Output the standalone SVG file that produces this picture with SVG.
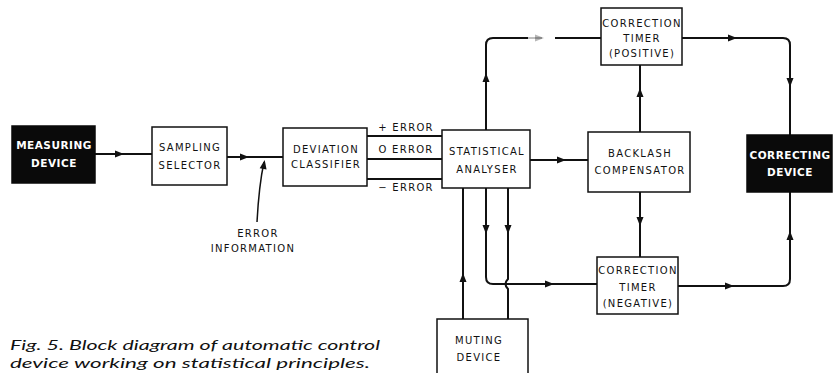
<svg xmlns="http://www.w3.org/2000/svg" width="840" height="373" viewBox="0 0 840 373">
<defs>
<style>
.box{fill:#fff;stroke:#111;stroke-width:1.5}
.blk{fill:#0a0a0a;stroke:#0a0a0a;stroke-width:1.5}
.lbl{font-family:"DejaVu Sans","Liberation Sans",sans-serif;font-size:10px;letter-spacing:1.3px;fill:#111;text-anchor:middle}
.wlbl{font-family:"DejaVu Sans","Liberation Sans",sans-serif;font-size:10.5px;font-weight:bold;letter-spacing:0.5px;fill:#fff;text-anchor:middle}
.ln{fill:none;stroke:#111;stroke-width:2}
.cap{font-family:Lato,"Open Sans",sans-serif;font-style:italic;font-size:14px;fill:#111}
</style>
<path id="ah" d="M-5,-3.5 L4,0 L-5,3.5 Z" fill="#111"/>
</defs>
<rect width="840" height="373" fill="#fff"/>

<g id="connectors">
<path class="ln" d="M95,154 H152"/>
<use href="#ah" transform="translate(120,154)"/>
<path class="ln" d="M227,157 H283"/>
<use href="#ah" transform="translate(245,157)"/>
<path class="ln" style="stroke-width:1.5" d="M257,222 Q259,185 264,162"/>
<use href="#ah" transform="translate(264,164) rotate(-80)"/>
<path class="ln" d="M367,136 H442 M367,159 H442 M367,179 H442"/>
<path class="ln" d="M530,160 H588"/>
<use href="#ah" transform="translate(562,160)"/>
<path class="ln" d="M486,130 V45 Q486,38 493,38 H528"/>
<path fill="none" stroke="#aaa" stroke-width="1.5" d="M528,38 H542"/>
<use href="#ah" transform="translate(540,38)" style="opacity:0.3"/>
<path class="ln" d="M555,38 H601"/>
<use href="#ah" transform="translate(486,77) rotate(-90)"/>
<path class="ln" d="M682,38 H783 Q790,38 790,45 V135"/>
<use href="#ah" transform="translate(733,38)"/>
<use href="#ah" transform="translate(790,83) rotate(90)"/>
<path class="ln" d="M640,132 V65"/>
<use href="#ah" transform="translate(640,92) rotate(-90)"/>
<path class="ln" d="M640,192 V257"/>
<use href="#ah" transform="translate(640,222) rotate(90)"/>
<path class="ln" d="M678,286 H783 Q790,286 790,279 V192"/>
<use href="#ah" transform="translate(730,286)"/>
<use href="#ah" transform="translate(790,235) rotate(-90)"/>
<path class="ln" d="M463,319 V188"/>
<use href="#ah" transform="translate(463,277) rotate(-90)"/>
<path class="ln" d="M486,188 V277 Q486,284 493,284 H597"/>
<use href="#ah" transform="translate(486,230) rotate(90)"/>
<use href="#ah" transform="translate(550,284)"/>
<path class="ln" d="M508,188 V279 Q503,284 508,289 V319"/>
<use href="#ah" transform="translate(508,230) rotate(90)"/>
</g>

<g id="measuring">
<rect class="blk" x="12" y="126" width="83" height="57"/>
<text class="wlbl" x="54" y="149">MEASURING</text>
<text class="wlbl" x="54" y="167">DEVICE</text>
</g>
<g id="sampling">
<rect class="box" x="152" y="127" width="75" height="58"/>
<text class="lbl" x="190" y="151">SAMPLING</text>
<text class="lbl" x="190" y="169">SELECTOR</text>
</g>
<g id="deviation">
<rect class="box" x="283" y="128" width="84" height="58"/>
<text class="lbl" x="326" y="153">DEVIATION</text>
<text class="lbl" x="326" y="168">CLASSIFIER</text>
</g>
<g id="error-labels">
<text class="lbl" x="406" y="131">+ ERROR</text>
<text class="lbl" x="406" y="153">O ERROR</text>
<text class="lbl" x="406" y="191">− ERROR</text>
<text class="lbl" x="258" y="237">ERROR</text>
<text class="lbl" x="253" y="252">INFORMATION</text>
</g>
<g id="statistical">
<rect class="box" x="442" y="130" width="88" height="58"/>
<text class="lbl" x="487" y="155">STATISTICAL</text>
<text class="lbl" x="487" y="173">ANALYSER</text>
</g>
<g id="backlash">
<rect class="box" x="588" y="132" width="102" height="60"/>
<text class="lbl" x="640" y="157">BACKLASH</text>
<text class="lbl" x="640" y="174">COMPENSATOR</text>
</g>
<g id="ct-positive">
<rect class="box" x="601" y="8" width="81" height="57"/>
<text class="lbl" x="642" y="27">CORRECTION</text>
<text class="lbl" x="642" y="42">TIMER</text>
<text class="lbl" x="642" y="57">(POSITIVE)</text>
</g>
<g id="ct-negative">
<rect class="box" x="597" y="257" width="81" height="57"/>
<text class="lbl" x="638" y="274">CORRECTION</text>
<text class="lbl" x="638" y="291">TIMER</text>
<text class="lbl" x="638" y="307">(NEGATIVE)</text>
</g>
<g id="correcting">
<rect class="blk" x="747" y="135" width="85" height="57"/>
<text class="wlbl" x="790" y="159">CORRECTING</text>
<text class="wlbl" x="790" y="176">DEVICE</text>
</g>
<g id="muting">
<rect class="box" x="437" y="319" width="91" height="60"/>
<text class="lbl" x="479" y="344">MUTING</text>
<text class="lbl" x="479" y="361">DEVICE</text>
</g>
<g id="caption">
<text class="cap" x="10" y="350" textLength="370" lengthAdjust="spacingAndGlyphs">Fig. 5. Block diagram of automatic control</text>
<text class="cap" x="10" y="368" textLength="360" lengthAdjust="spacingAndGlyphs">device working on statistical principles.</text>
</g>
</svg>
